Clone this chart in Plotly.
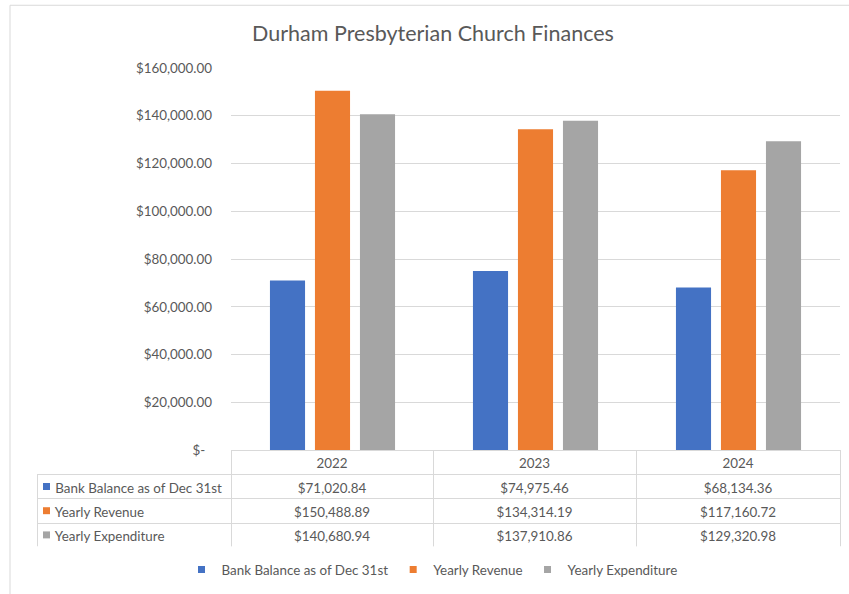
import plotly.graph_objects as go

# ---- data ----
years = ["2022", "2023", "2024"]
series_names = ["Bank Balance as of Dec 31st", "Yearly Revenue", "Yearly Expenditure"]
bank_balance = [71020.84, 74975.46, 68134.36]
yearly_revenue = [150488.89, 134314.19, 117160.72]
yearly_expenditure = [140680.94, 137910.86, 129320.98]
series_colors = ["#4472C4", "#ED7D31", "#A5A5A5"]
y_tickvals = [0, 20000, 40000, 60000, 80000, 100000, 120000, 140000, 160000]
y_ticktext = ["$-\u00a0\u00a0", "$20,000.00", "$40,000.00", "$60,000.00", "$80,000.00",
              "$100,000.00", "$120,000.00", "$140,000.00", "$160,000.00"]

TEXT = "#595959"
GRID = "#D9D9D9"
FONT = "Lato"
FS = 13.4

W, H = 849, 594
ML, MR, MT, MB = 37, 9, 68, 45
plot_w = W - ML - MR
plot_h = H - MT - MB
ROW_H = 24.3
table_h = 4 * ROW_H
x_axis_left = 231


def fmt(v):
    return "${:,.2f}".format(v)


def px_x(px):
    return (px - ML) / plot_w


def px_y(py):
    return ((H - MB) - py) / plot_h


all_series = [bank_balance, yearly_revenue, yearly_expenditure]

fig = go.Figure()
for name, vals, col in zip(series_names, all_series, series_colors):
    fig.add_trace(go.Bar(x=years, y=vals, name=name, marker=dict(color=col, line=dict(width=0)),
                         showlegend=False, legendgroup=name, hoverinfo="x+y+name"))
# legend entries with small square keys
for name, col in zip(series_names, series_colors):
    fig.add_trace(go.Scatter(x=[None], y=[None], mode="markers", name=name, legendgroup=name,
                             marker=dict(symbol="square", size=7, color=col)))

# data table under the chart
row_labels = ["\u00a0\u00a0\u00a0" + n.replace(" ", "\u00a0") for n in series_names]
columns = [row_labels]
for i in range(len(years)):
    columns.append([fmt(s[i]) for s in all_series])

tbl_dom_top = table_h / plot_h
CLEAR = "rgba(0,0,0,0)"
fig.add_trace(go.Table(
    domain=dict(x=[0, 1], y=[0, tbl_dom_top]),
    columnwidth=[194, 202, 203, 204],
    header=dict(values=[""] + years,
                height=ROW_H,
                align="center",
                fill=dict(color=[CLEAR, "white", "white", "white"]),
                line=dict(color=[CLEAR, GRID, GRID, GRID], width=1),
                font=dict(family=FONT, size=FS, color=TEXT)),
    cells=dict(values=columns,
               height=ROW_H,
               align=["left", "center", "center", "center"],
               fill=dict(color="white"),
               line=dict(color=GRID, width=1),
               font=dict(family=FONT, size=FS, color=TEXT)),
))

# colored keys in the table's first column
table_top_px = H - MB - table_h
shapes = []
for r, col in enumerate(series_colors):
    cy = table_top_px + ROW_H * (r + 1) + ROW_H / 2
    shapes.append(dict(type="rect", xref="paper", yref="paper",
                       x0=px_x(43), x1=px_x(50), y0=px_y(cy + 3.5), y1=px_y(cy - 3.5),
                       line=dict(width=0), fillcolor=col, layer="above"))
# outer chart border
shapes.append(dict(type="rect", xref="paper", yref="paper",
                   x0=px_x(10), x1=px_x(W + 10), y0=px_y(H + 10), y1=px_y(5),
                   line=dict(color=GRID, width=1), fillcolor=CLEAR, layer="below"))

fig.update_layout(
    width=W, height=H,
    margin=dict(l=ML, r=MR, t=MT, b=MB),
    paper_bgcolor="white", plot_bgcolor="white",
    font=dict(family=FONT, color=TEXT, size=FS),
    title=dict(text="Durham Presbyterian Church Finances", xref="container", x=433 / W,
               xanchor="center", y=1 - 33 / H, yanchor="middle",
               font=dict(family=FONT, size=21.5, color=TEXT)),
    barmode="group", bargap=0.335, bargroupgap=0.22,
    xaxis=dict(domain=[px_x(x_axis_left), 1], showticklabels=False, showgrid=False,
               showline=False, zeroline=False, ticks=""),
    yaxis=dict(domain=[tbl_dom_top, 1], range=[0, 160000], tickvals=y_tickvals, ticktext=y_ticktext,
               showgrid=True, gridcolor=GRID, gridwidth=1, zeroline=False, showline=False,
               ticks="", ticklabelstandoff=18, tickfont=dict(family=FONT, size=FS, color=TEXT)),
    showlegend=True,
    legend=dict(orientation="h", x=px_x(432), xanchor="center", y=px_y(572),
                yanchor="middle", font=dict(family=FONT, size=FS, color=TEXT),
                itemwidth=30, tracegroupgap=0, bgcolor=CLEAR),
    shapes=shapes,
)

fig.write_html("out.html", config={"displayModeBar": False},
               post_script="document.body.style.margin='0px';")
